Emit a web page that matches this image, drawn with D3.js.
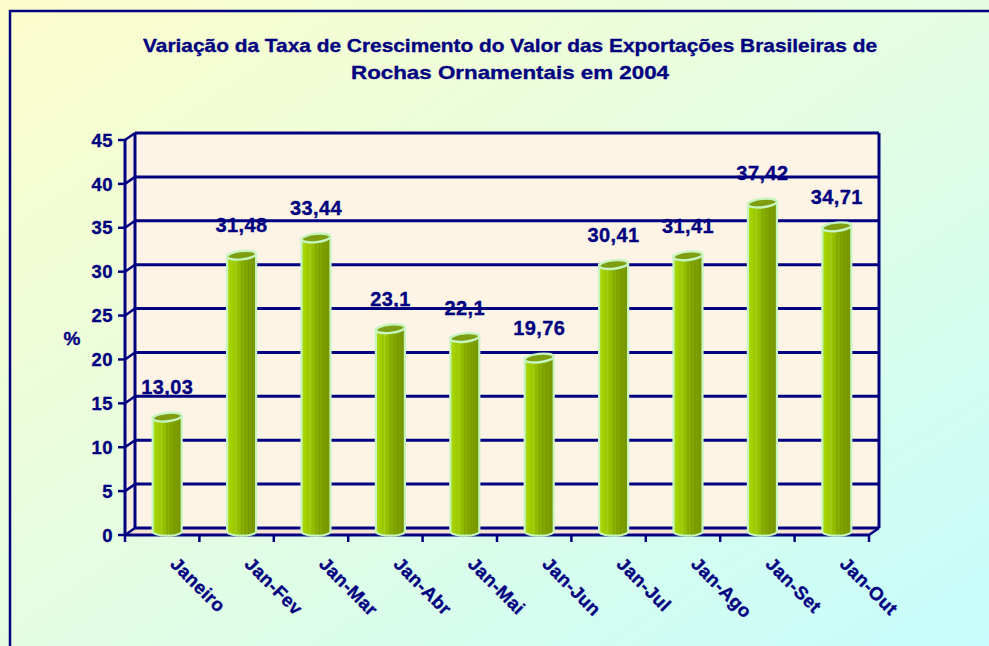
<!DOCTYPE html>
<html><head><meta charset="utf-8">
<script src="https://cdn.jsdelivr.net/npm/d3@7"></script>
<style>
html,body{margin:0;padding:0;background:#fff;}
svg{display:block;font-family:"Liberation Sans",Arial,sans-serif;font-weight:bold;}
svg text{stroke:#000080;stroke-width:0.35px;}
</style></head>
<body>
<svg id="chart" width="989" height="646"></svg>
<script>
const titleLines = ["Variação da Taxa de Crescimento do Valor das Exportações Brasileiras de", "Rochas Ornamentais em 2004"];
const categories = ["Janeiro","Jan-Fev","Jan-Mar","Jan-Abr","Jan-Mai","Jan-Jun","Jan-Jul","Jan-Ago","Jan-Set","Jan-Out"];
const values = [13.03,31.48,33.44,23.1,22.1,19.76,30.41,31.41,37.42,34.71];
const yTicks = [0,5,10,15,20,25,30,35,40,45];
const yLabel = "%";

const navy = "#000080";
const svg = d3.select("#chart");
const defs = svg.append("defs");

const bg = defs.append("linearGradient").attr("id","bg").attr("x1","0").attr("y1","0").attr("x2","1").attr("y2","1");
bg.append("stop").attr("offset","0%").attr("stop-color","#fdfdcc");
bg.append("stop").attr("offset","50%").attr("stop-color","#e4fde2");
bg.append("stop").attr("offset","100%").attr("stop-color","#c6fdfc");

const barG = defs.append("linearGradient").attr("id","barg").attr("x1","0").attr("y1","0").attr("x2","1").attr("y2","0");
[["0%","#b0da18"],["12%","#a4d200"],["40%","#92be00"],["65%","#84a800"],["100%","#749200"]].forEach(s=>barG.append("stop").attr("offset",s[0]).attr("stop-color",s[1]));

svg.append("rect").attr("x",0).attr("y",0).attr("width",989).attr("height",646).attr("fill","url(#bg)");
svg.append("rect").attr("x",10).attr("y",11).attr("width",1000).attr("height",700)
  .attr("fill","none").attr("stroke",navy).attr("stroke-width",2.5);

const titleT = svg.append("g").attr("fill",navy).attr("font-size",19).attr("text-anchor","middle");
titleT.append("text").attr("x",510).attr("y",52).attr("textLength",734).attr("lengthAdjust","spacingAndGlyphs").text(titleLines[0]);
titleT.append("text").attr("x",510).attr("y",79).attr("textLength",318).attr("lengthAdjust","spacingAndGlyphs").text(titleLines[1]);

const y = d3.scaleLinear().domain([0,45]).range([528,133]);
const x = d3.scaleBand().domain(categories).range([135,879]).paddingInner(0).paddingOuter(0);
const dx = -10, dy = 7;
const x0 = x.range()[0], x1 = x.range()[1];

svg.append("path").attr("d",`M${x0+dx},${y(45)+dy} L${x0},${y(45)} L${x0},${y(0)} L${x0+dx},${y(0)+dy} Z`).attr("fill","#f7eee0");
svg.append("rect").attr("x",x0).attr("y",y(45)).attr("width",x1-x0).attr("height",y(0)-y(45)).attr("fill","#fdf4e5");
svg.append("path").attr("d",`M${x0+dx},${y(0)+dy} L${x0},${y(0)} L${x1},${y(0)} L${x1+dx},${y(0)+dy} Z`).attr("fill","#f8e2d0");

const grid = svg.append("g").attr("stroke",navy).attr("fill","none");
yTicks.forEach(t=>{
  grid.append("line").attr("x1",x0).attr("x2",x1).attr("y1",y(t)).attr("y2",y(t)).attr("stroke-width",3);
  grid.append("line").attr("x1",x0+dx).attr("x2",x0).attr("y1",y(t)+dy).attr("y2",y(t)).attr("stroke-width",2.5);
  grid.append("line").attr("x1",x0+dx-7).attr("x2",x0+dx).attr("y1",y(t)+dy).attr("y2",y(t)+dy).attr("stroke-width",2.5);
});
grid.append("line").attr("x1",x0).attr("x2",x0).attr("y1",y(45)).attr("y2",y(0)).attr("stroke-width",3);
grid.append("line").attr("x1",x1).attr("x2",x1).attr("y1",y(45)).attr("y2",y(0)).attr("stroke-width",3);
grid.append("line").attr("x1",x0+dx).attr("x2",x0+dx).attr("y1",y(45)+dy).attr("y2",y(0)+dy).attr("stroke-width",3);
grid.append("line").attr("x1",x0+dx).attr("x2",x1+dx).attr("y1",y(0)+dy).attr("y2",y(0)+dy).attr("stroke-width",3);
grid.append("line").attr("x1",x1+dx).attr("x2",x1).attr("y1",y(0)+dy).attr("y2",y(0)).attr("stroke-width",2.5);
const bounds = categories.map(c=>x(c)).concat([x1]);
bounds.forEach(b=>{
  grid.append("line").attr("x1",b+dx).attr("x2",b+dx).attr("y1",y(0)+dy).attr("y2",y(0)+dy+7).attr("stroke-width",2.5);
});

svg.append("g").attr("fill",navy).attr("font-size",18.5).attr("letter-spacing","0.4px").attr("text-anchor","end")
  .selectAll("text").data(yTicks).join("text")
  .attr("x",x0+dx-12).attr("y",d=>y(d)+dy).attr("dy","0.36em").text(d=>d);

svg.append("text").attr("x",72).attr("y",338).attr("dy","0.36em").attr("text-anchor","middle")
  .attr("fill",navy).attr("font-size",19).text(yLabel);

const bw = x.bandwidth()*0.39, rx = bw/2, ry = 4.2;
const mdx = dx/2, mdy = dy/2;
const bars = svg.append("g").selectAll("g").data(values).join("g")
  .attr("transform",(d,i)=>`translate(${x(categories[i])+x.bandwidth()/2+mdx},0)`);
bars.append("path")
  .attr("d",d=>{const t=y(d)+mdy, b=y(0)+mdy; return `M${-rx},${t} L${-rx},${b} A${rx},${ry} 0 0 0 ${rx},${b} L${rx},${t} Z`;})
  .attr("fill","url(#barg)").attr("stroke","#c8f5bf").attr("stroke-width",2.2);
[0.3,0.5,0.62,0.74].forEach((f,k)=>{
  bars.append("line").attr("x1",-rx+f*2*rx).attr("x2",-rx+f*2*rx)
    .attr("y1",d=>y(d)+mdy+2).attr("y2",y(0)+mdy+ry-1)
    .attr("stroke",k===0?"#bce244":"#6a8400").attr("stroke-opacity",k===0?0.5:0.4).attr("stroke-width",1);
});
bars.append("ellipse").attr("cx",0).attr("cy",d=>y(d)+mdy).attr("rx",rx).attr("ry",ry)
  .attr("transform",d=>`rotate(-6,0,${y(d)+mdy})`)
  .attr("fill","#7f9d10").attr("stroke","#c8f5bf").attr("stroke-width",2.4);

svg.append("g").attr("fill",navy).attr("font-size",20).attr("letter-spacing","0.4px").attr("text-anchor","middle")
  .selectAll("text").data(values).join("text")
  .attr("x",(d,i)=>x(categories[i])+x.bandwidth()/2+mdx)
  .attr("y",d=>y(d)+mdy-30).attr("dy","0.36em")
  .text(d=>String(d).replace(".",","));

svg.append("g").attr("fill",navy).attr("font-size",18.5).attr("letter-spacing","0.4px")
  .selectAll("text").data(categories).join("text")
  .attr("transform",c=>`translate(${x(c)+x.bandwidth()/2+dx+7},${y(0)+dy+30}) rotate(45)`)
  .text(c=>c);
</script>
</body></html>
